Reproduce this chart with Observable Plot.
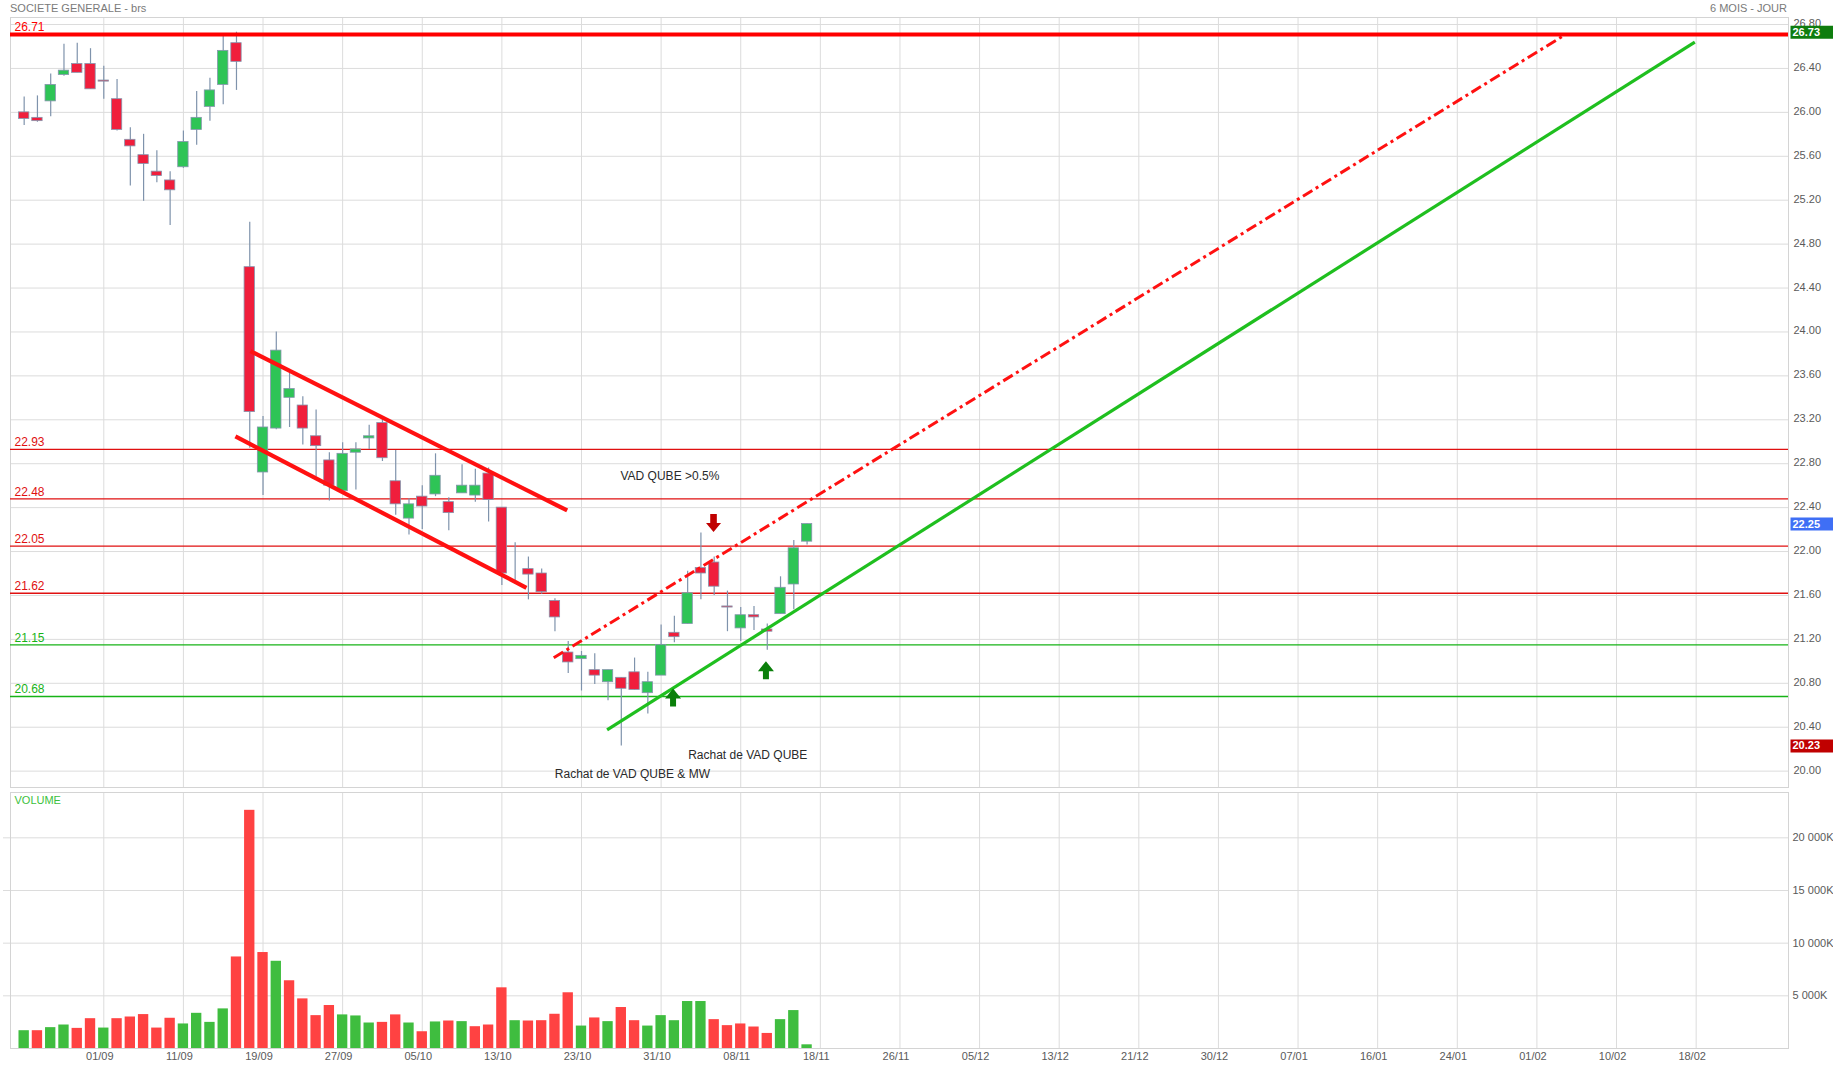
<!DOCTYPE html>
<html>
<head>
<meta charset="utf-8">
<script src="https://cdn.jsdelivr.net/npm/d3@7"></script>
<script src="https://cdn.jsdelivr.net/npm/@observablehq/plot@0.6"></script>
<style>
html,body{margin:0;padding:0;background:#fff;overflow:hidden;}
#wrap{position:relative;width:1833px;height:1068px;overflow:hidden;font-family:"Liberation Sans",Arial,sans-serif;}
#price{position:absolute;left:0;top:0;}
#volume{position:absolute;left:0;top:790px;}
.hdr{position:absolute;top:2px;font-size:11px;line-height:13px;color:#7a7a7a;z-index:2;white-space:nowrap;}
#title{left:10px;}
#period{right:46px;}
</style>
</head>
<body>
<div id="wrap">
  <div id="price"></div>
  <div id="volume"></div>
  <div id="title" class="hdr">SOCIETE GENERALE - brs</div>
  <div id="period" class="hdr">6 MOIS - JOUR</div>
</div>
<script>
// ---------- DATA (daily sessions, index 0 = 24/08/2023) ----------
const opens  = [26.00,25.95,26.10,26.34,26.44,26.44,26.29,26.12,25.75,25.61,25.46,25.38,25.50,25.84,26.05,26.25,26.63,24.59,22.72,23.12,
                23.40,23.33,23.05,22.83,22.55,22.90,23.03,23.17,22.64,22.30,22.50,22.52,22.45,22.53,22.51,22.71,22.40,21.95,21.84,21.80,
                21.55,21.08,21.02,20.92,20.81,20.85,20.90,20.71,20.87,21.26,21.34,21.85,21.90,21.50,21.30,21.42,21.29,21.43,21.70,22.09];
const highs  = [26.14,26.15,26.35,26.62,26.63,26.58,26.42,26.30,25.86,25.80,25.65,25.46,25.83,26.19,26.31,26.70,26.73,25.00,23.23,24.00,
                23.63,23.41,23.29,22.90,22.99,22.99,23.15,23.21,22.92,22.48,22.60,22.89,22.49,22.79,22.75,22.76,22.40,22.08,21.95,21.84,
                21.57,21.18,21.09,21.07,20.92,20.85,21.03,20.90,21.33,21.41,21.82,22.17,21.95,21.64,21.49,21.50,21.34,21.77,22.10,22.25];
const lows   = [25.88,25.91,25.96,26.33,26.36,26.21,26.12,25.83,25.33,25.19,25.36,24.97,25.49,25.70,25.92,26.07,26.20,22.94,22.51,23.11,
                23.13,22.97,22.68,22.46,22.55,22.56,22.93,22.82,22.33,22.15,22.20,22.50,22.19,22.53,22.45,22.27,21.69,21.70,21.56,21.61,
                21.27,20.89,20.73,20.79,20.64,20.23,20.74,20.52,20.87,21.17,21.34,21.56,21.60,21.27,21.18,21.28,21.10,21.43,21.47,22.06];
const closes = [25.94,25.92,26.25,26.38,26.36,26.21,26.28,25.84,25.69,25.53,25.42,25.29,25.73,25.95,26.20,26.56,26.46,23.27,23.13,23.83,
                23.48,23.12,22.96,22.60,22.89,22.93,23.05,22.85,22.43,22.43,22.41,22.69,22.35,22.60,22.60,22.47,21.80,21.95,21.79,21.63,
                21.40,20.99,21.05,20.87,20.92,20.75,20.74,20.81,21.15,21.22,21.62,21.80,21.68,21.49,21.42,21.40,21.27,21.67,22.03,22.25];
// volume in thousands of shares, and colour direction (u = up, d = down)
const volumes = [1690,1690,1980,2230,1910,2830,1940,2830,2990,3220,1940,2870,2330,3340,2480,3760,8690,22610,9110,8280,
                 6430,4710,3120,4080,3190,3090,2420,2480,3190,2420,1590,2520,2610,2550,2070,2230,5760,2640,2610,2640,
                 3250,5290,2130,2900,2550,3890,2640,2130,3120,2640,4460,4460,2740,2170,2330,2040,1430,2740,3600,350];
const volDir = ["u","d","u","u","d","d","u","d","d","d","d","d","u","u","u","u","d","d","d","u",
                "d","d","d","d","u","u","u","d","d","u","d","u","d","u","d","d","d","u","d","d",
                "d","d","u","d","u","d","d","u","u","u","u","u","d","d","d","d","d","u","u","u"];

// axis ticks
const priceTicks = [20.00,20.40,20.80,21.20,21.60,22.00,22.40,22.80,23.20,23.60,24.00,24.40,24.80,25.20,25.60,26.00,26.40,26.80];
const volTicks = [5000,10000,15000,20000];
const xTickIdx = [6,12,18,24,30,36,42,48,54,60,66,72,78,84,90,96,102,108,114,120,126];
const xTickLabels = ["01/09","11/09","19/09","27/09","05/10","13/10","23/10","31/10","08/11","18/11","26/11",
                     "05/12","13/12","21/12","30/12","07/01","16/01","24/01","01/02","10/02","18/02"];

// horizontal levels
const levelValues = [26.71,22.93,22.48,22.05,21.62,21.15,20.68];
const levelColors = ["#ff0000","#e01010","#e01010","#e01010","#e01010","#17b317","#17b317"];
const levelWidths = [4,1.3,1.3,1.3,1.3,1.3,1.3];

// right-hand badges
const badgeValues = [26.73,22.25,20.23];
const badgeColors = ["#0e7d0e","#3f6ff5","#c00000"];

// drawn trend lines (session index, price)
const upperChannel = [{i:17.05,p:23.825},{i:40.92,p:22.374}];
const lowerChannel = [{i:15.92,p:23.048},{i:37.85,p:21.670}];
const redDashLine  = [{i:39.91,p:21.032},{i:116.15,p:26.709}];
const greenLine    = [{i:43.93,p:20.376},{i:125.9,p:26.639}];

// annotations
const notes = [
  {i:44.94, p:22.686, text:"VAD QUBE >0.5%"},
  {i:50.04, p:20.149, text:"Rachat de VAD QUBE"},
  {i:39.99, p:19.976, text:"Rachat de VAD QUBE & MW"}
];
const downArrows = [{i:51.95, p:22.26}];
const upArrows   = [{i:48.9, p:20.67},{i:55.9, p:20.92}];

// ---------- BUILD ----------
const candles = opens.map((o,k)=>({i:k, open:o, high:highs[k], low:lows[k], close:closes[k]}));
const vols = volumes.map((v,k)=>({i:k, v, dir:volDir[k]}));
const labelMap = new Map(xTickIdx.map((d,k)=>[d, xTickLabels[k]]));
const levels = levelValues.map((v,k)=>({v, color:levelColors[k], w:levelWidths[k]}));
const badges = badgeValues.map((v,k)=>({v, color:badgeColors[k]}));

const RED = "#f01e3c", GREEN = "#2ec456", WICK = "#7f93ac";
const VRED = "#ff4242", VGREEN = "#3fbd3f";
const HALF = 0.39;
const X_DOMAIN = [-1.03, 132.96];
const FONT = "'Liberation Sans', Arial, sans-serif";

const arrowUp = {draw(ctx){ctx.moveTo(0,-9);ctx.lineTo(8,1);ctx.lineTo(3,1);ctx.lineTo(3,9);ctx.lineTo(-3,9);ctx.lineTo(-3,1);ctx.lineTo(-8,1);ctx.closePath();}};
const arrowDown = {draw(ctx){ctx.moveTo(0,9);ctx.lineTo(7.5,0);ctx.lineTo(3.3,0);ctx.lineTo(3.3,-9);ctx.lineTo(-3.3,-9);ctx.lineTo(-3.3,0);ctx.lineTo(-7.5,0);ctx.closePath();}};
const badgeSym = {draw(ctx){ctx.rect(-21.5,-6.5,43,13);}};

const candleColor = d => d.close > d.open ? GREEN : d.close < d.open ? RED : WICK;

const pricePlot = Plot.plot({
  width: 1833, height: 790,
  marginTop: 17, marginBottom: 3, marginLeft: 10, marginRight: 45,
  style: {fontFamily: FONT, fontSize: "11px", background: "transparent"},
  x: {domain: X_DOMAIN, axis: null},
  y: {domain: [19.851, 26.864], axis: null},
  color: {type: "identity"},
  marks: [
    Plot.gridY(priceTicks, {stroke: "#dcdcdc", strokeOpacity: 1}),
    Plot.gridX(xTickIdx, {stroke: "#dcdcdc", strokeOpacity: 1}),
    Plot.frame({stroke: "#d4d4d4"}),
    Plot.ruleY(levels.slice(1), {y: "v", stroke: "color", strokeWidth: "w"}),
    Plot.text(levels, {y: "v", text: d => d.v.toFixed(2), frameAnchor: "left", textAnchor: "start", dx: 4, dy: -7, fill: "color", fontSize: 12}),
    Plot.ruleX(candles, {x: "i", y1: "low", y2: "high", stroke: WICK, strokeWidth: 1.2}),
    Plot.rect(candles, {x1: d => d.i - HALF, x2: d => d.i + HALF, y1: "open", y2: "close", fill: candleColor, stroke: "#8595ad", strokeWidth: 0.8}),
    Plot.line(upperChannel, {x: "i", y: "p", stroke: "#ff1111", strokeWidth: 4.2, strokeLinecap: "butt"}),
    Plot.line(lowerChannel, {x: "i", y: "p", stroke: "#ff1111", strokeWidth: 4.2, strokeLinecap: "butt"}),
    Plot.line(redDashLine, {x: "i", y: "p", stroke: "#ff1111", strokeWidth: 3, strokeDasharray: "11,4,3,4", strokeLinecap: "butt"}),
    Plot.line(greenLine, {x: "i", y: "p", stroke: "#1fbf1f", strokeWidth: 3.2, strokeLinecap: "butt"}),
    Plot.ruleY(levels.slice(0,1), {y: "v", stroke: "color", strokeWidth: "w"}),
    Plot.dot(downArrows, {x: "i", y: "p", symbol: arrowDown, fill: "#c00000"}),
    Plot.dot(upArrows, {x: "i", y: "p", symbol: arrowUp, fill: "#0a7f0a"}),
    Plot.text(notes, {x: "i", y: "p", text: "text", textAnchor: "start", fill: "#2a2a2a", fontSize: 12}),
    Plot.axisY(priceTicks, {anchor: "right", tickSize: 0, tickPadding: 5, tickFormat: d => d.toFixed(2), fill: "#5a5a5a", fontSize: 11, dy: -1, label: null}),
    Plot.dot(badges, {y: "v", frameAnchor: "right", dx: 23.5, symbol: badgeSym, fill: "color"}),
    Plot.text(badges, {y: "v", frameAnchor: "right", dx: 4, textAnchor: "start", text: d => d.v.toFixed(2), fill: "white", fontWeight: "bold", fontSize: 11})
  ]
});
document.getElementById("price").appendChild(pricePlot);

const volPlot = Plot.plot({
  width: 1833, height: 278,
  marginTop: 2, marginBottom: 20, marginLeft: 10, marginRight: 45,
  style: {fontFamily: FONT, fontSize: "11px", background: "transparent"},
  x: {domain: X_DOMAIN, axis: null},
  y: {domain: [0, 24302], axis: null},
  color: {type: "identity"},
  marks: [
    Plot.gridY(volTicks, {stroke: "#dcdcdc", strokeOpacity: 1}),
    Plot.axisY(volTicks, {anchor: "left", tickSize: 7, tickFormat: () => "", stroke: "#dcdcdc", label: null}),
    Plot.gridX(xTickIdx, {stroke: "#dcdcdc", strokeOpacity: 1}),
    Plot.frame({stroke: "#d4d4d4"}),
    Plot.rect(vols, {x1: d => d.i - HALF, x2: d => d.i + HALF, y1: 0, y2: "v", fill: d => d.dir === "u" ? VGREEN : VRED}),
    Plot.text(["VOLUME"], {frameAnchor: "top-left", dx: 4, dy: 8, textAnchor: "start", lineAnchor: "middle", fill: "#3cbf3c", fontSize: 11}),
    Plot.axisY(volTicks, {anchor: "right", tickSize: 0, tickPadding: 4, tickFormat: d => d3.format(",")(d).replace(",", " ") + "K", fill: "#5a5a5a", fontSize: 11, dy: 0, label: null}),
    Plot.axisX(xTickIdx, {anchor: "bottom", tickSize: 0, tickPadding: 4, tickFormat: d => labelMap.get(d), fill: "#5a5a5a", fontSize: 11, dx: -4, label: null})
  ]
});
document.getElementById("volume").appendChild(volPlot);
</script>
</body>
</html>
